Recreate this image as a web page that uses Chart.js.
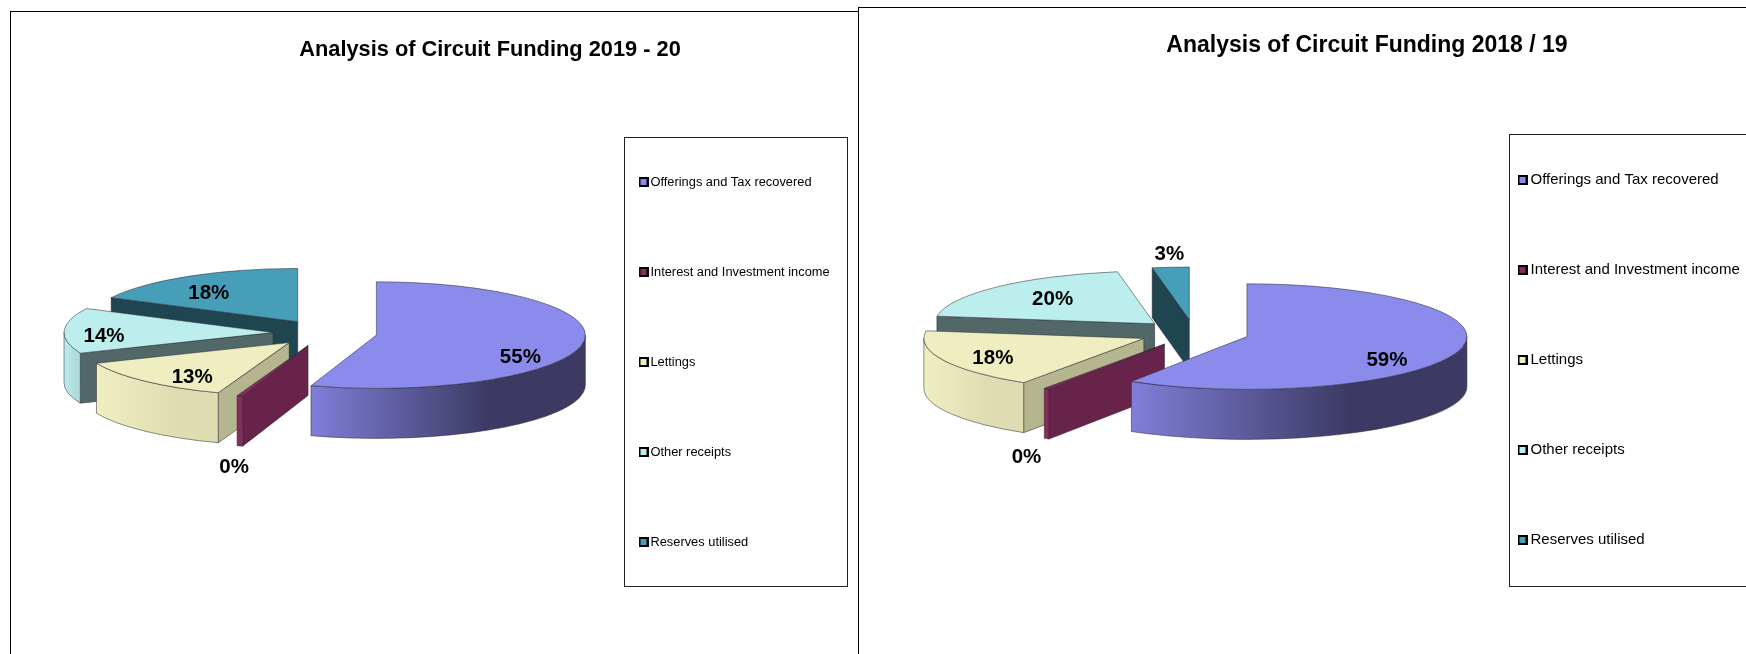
<!DOCTYPE html>
<html>
<head>
<meta charset="utf-8">
<script src="https://cdn.jsdelivr.net/npm/chart.js@4"></script>
<style>
  html, body { margin: 0; background: #fff; overflow: hidden; }
  canvas { position: absolute; left: 0; top: 0; }
  .frame { position: absolute; box-sizing: border-box; border: 0 solid #000; }
</style>
</head>
<body>
<div class="frame" style="left:10px;top:11px;width:849px;height:643px;border-width:1px 1px 0 1px"></div>
<div class="frame" style="left:858px;top:7px;width:888px;height:647px;border-width:1px 0 0 1px"></div>
<div class="frame" style="left:624px;top:137px;width:224px;height:450px;border-width:1px;border-color:#222"></div>
<div class="frame" style="left:1509px;top:134px;width:237px;height:453px;border-width:1px 0 1px 1px;border-color:#222"></div>
<canvas id="chart2019"></canvas>
<canvas id="chart2018"></canvas>
<script>
// values, the "0%" slice is a thin sliver
const categories = ['Offerings and Tax recovered', 'Interest and Investment income', 'Lettings', 'Other receipts', 'Reserves utilised'];
const values2019 = [55.2, 0.45, 13.2, 13.8, 17.6];
const values2018 = [58.8, 0.4, 18.1, 20, 2.7];

const topColors = ['#8B8BEB', '#8A2A5C', '#EEEEC0', '#BCEEEE', '#469EB9'];
const sideColors = ['#3C3A63', '#68234A', '#B5B58F', '#526767', '#1F4650'];
const wallLight = ['#807ED8', '#8A2A5C', '#EFEFC2', '#BCEEEE', '#469EB9'];
const wallDark = ['#3C3A63', '#8A2A5C', '#DEDDB1', '#AEDCDC', '#469EB9'];

Chart.defaults.font.family = '"Liberation Sans", Arial, sans-serif';
Chart.defaults.color = '#000';

function makeSwatch(color) {
    const c = document.createElement('canvas');
    c.width = 10;
    c.height = 10;
    const g = c.getContext('2d');
    g.fillStyle = '#000';
    g.fillRect(0, 0, 10, 10);
    g.fillStyle = color;
    g.fillRect(2, 2, 6, 6);
    return c;
}

// pie is tilted and every slice pulled out, chart.js has no 3d pie so the arcs are painted here
const pie3d = {
    id: 'pie3d',
    afterLayout(chart) {
        const v = chart.options.plugins.pie3d;
        chart.chartArea = {
            left: v.cx - v.radius, right: v.cx + v.radius,
            top: v.cy - v.radius, bottom: v.cy + v.radius,
            width: v.radius * 2, height: v.radius * 2
        };
        const t = chart.titleBlock;
        t.left = v.titleX - 260;
        t.right = v.titleX + 260;
        t.top = v.titleY - t.options.font.size * 0.6;
        const l = chart.legend;
        const pad = l.options.labels.padding;
        l.left = v.legendX - pad;
        l.top = v.legendY - pad - l.options.labels.font.size / 2;
        l.bottom = 2000;
    },
    beforeDatasetDraw(chart, args) {
        const v = chart.options.plugins.pie3d;
        const ctx = chart.ctx;
        const arcs = args.meta.data.map((arc, i) => {
            const p = arc.getProps(['x', 'y', 'startAngle', 'endAngle', 'outerRadius']);
            const mid = (p.startAngle + p.endAngle) / 2;
            return {
                i, mid,
                a: p.startAngle, b: p.endAngle, r: p.outerRadius,
                ax: p.x + Math.cos(mid) * v.explode,
                ay: p.y + Math.sin(mid) * v.explode * v.tilt
            };
        });

        ctx.save();
        ctx.lineWidth = 0.7;
        ctx.strokeStyle = 'rgba(40,40,50,0.75)';
        ctx.lineJoin = 'round';
        // last slice is painted first, the big one ends up on top like in the original
        arcs.slice().reverse().forEach(s => {
            const ry = s.r * v.tilt;
            const radialWall = ang => {
                ctx.beginPath();
                ctx.moveTo(s.ax, s.ay);
                ctx.lineTo(s.ax + Math.cos(ang) * s.r, s.ay + Math.sin(ang) * ry);
                ctx.lineTo(s.ax + Math.cos(ang) * s.r, s.ay + Math.sin(ang) * ry + v.depth);
                ctx.lineTo(s.ax, s.ay + v.depth);
                ctx.closePath();
                ctx.fillStyle = sideColors[s.i];
                ctx.fill();
                ctx.stroke();
            };
            if (Math.cos(s.a) < 0) radialWall(s.a);
            if (Math.cos(s.b) > 0) radialWall(s.b);

            // curved wall only shows on the lower half of the ellipse
            const lo = Math.max(s.a, 0), hi = Math.min(s.b, Math.PI);
            if (hi > lo) {
                const x1 = s.ax + Math.cos(hi) * s.r, x2 = s.ax + Math.cos(lo) * s.r;
                const grad = ctx.createLinearGradient(x1, 0, Math.max(x2, x1 + 1), 0);
                grad.addColorStop(0, wallLight[s.i]);
                grad.addColorStop(0.65, wallDark[s.i]);
                grad.addColorStop(1, wallDark[s.i]);
                ctx.beginPath();
                ctx.ellipse(s.ax, s.ay, s.r, ry, 0, lo, hi);
                ctx.ellipse(s.ax, s.ay + v.depth, s.r, ry, 0, hi, lo, true);
                ctx.closePath();
                ctx.fillStyle = grad;
                ctx.fill();
                ctx.stroke();
            }

            ctx.beginPath();
            ctx.moveTo(s.ax, s.ay);
            ctx.ellipse(s.ax, s.ay, s.r, ry, 0, s.a, s.b);
            ctx.closePath();
            ctx.fillStyle = topColors[s.i];
            ctx.fill();
            ctx.stroke();
        });

        const values = chart.data.datasets[0].data;
        const total = values.reduce((x, y) => x + y, 0);
        ctx.fillStyle = '#000';
        ctx.font = 'bold ' + v.labelSize + 'px "Liberation Sans", Arial, sans-serif';
        ctx.textAlign = 'center';
        ctx.textBaseline = 'middle';
        arcs.forEach(s => {
            const off = v.labelOffsets[s.i];
            ctx.fillText(Math.round(values[s.i] / total * 100) + '%', s.ax + off[0], s.ay + off[1]);
        });
        ctx.restore();
        return false;
    }
};

function makeChart(id, titleText, values, view, legendFont, titleFont) {
    return new Chart(document.getElementById(id), {
        type: 'pie',
        data: {
            labels: categories,
            datasets: [{ data: values, backgroundColor: topColors, borderWidth: 0 }]
        },
        plugins: [pie3d],
        options: {
            responsive: false,
            animation: false,
            events: [],
            plugins: {
                pie3d: view,
                tooltip: { enabled: false },
                title: {
                    display: true,
                    text: titleText,
                    color: '#000',
                    padding: 0,
                    font: { size: titleFont, weight: 'bold' }
                },
                legend: {
                    position: 'right',
                    align: 'start',
                    labels: {
                        usePointStyle: true,
                        pointStyleWidth: 1,
                        boxHeight: 10,
                        font: { size: legendFont },
                        padding: 90 - legendFont,
                        generateLabels: () => categories.map((name, i) => ({
                            text: name,
                            pointStyle: makeSwatch(topColors[i]),
                            fillStyle: topColors[i],
                            lineWidth: 0,
                            hidden: false,
                            index: i,
                            datasetIndex: 0
                        }))
                    }
                }
            }
        }
    });
}

const sizeCanvas = id => {
    const c = document.getElementById(id);
    c.width = 1746;
    c.height = 654;
};
sizeCanvas('chart2019');
sizeCanvas('chart2018');

makeChart('chart2019', 'Analysis of Circuit Funding 2019 - 20', values2019, {
    cx: 325, cy: 333, radius: 209, tilt: 0.255, depth: 50, explode: 52,
    titleX: 490, titleY: 50,
    legendX: 643, legendY: 182,
    labelSize: 20.5,
    labelOffsets: [[144, 22], [-74, 122], [-97, 35], [-169, 4], [-89, -28]]
}, 12.85, 21.8);

makeChart('chart2018', 'Analysis of Circuit Funding 2018 / 19', values2018, {
    cx: 1194, cy: 333, radius: 220, tilt: 0.24, depth: 50, explode: 55,
    titleX: 1367, titleY: 46,
    legendX: 1522, legendY: 180,
    labelSize: 20.5,
    labelOffsets: [[140, 24], [-138, 113], [-151, 20], [-102, -24], [-20, -66]]
}, 15, 23);
</script>
</body>
</html>
